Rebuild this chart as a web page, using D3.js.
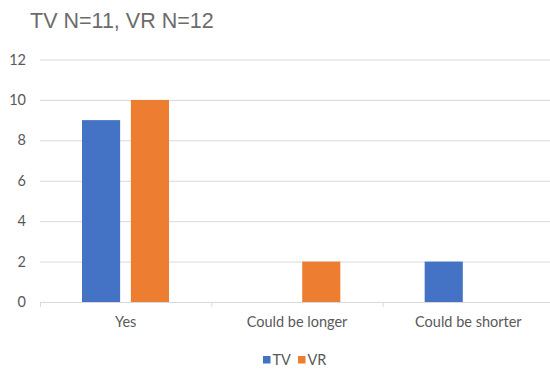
<!DOCTYPE html>
<html>
<head>
<meta charset="utf-8">
<script src="https://cdn.jsdelivr.net/npm/d3@7"></script>
<style>
  html, body { margin: 0; padding: 0; background: #fff; }
  svg { display: block; }
</style>
</head>
<body>
<svg id="chart" width="550" height="369"></svg>
<script>
// Survey answers per group
const categories = ["Yes", "Could be longer", "Could be shorter"];
const seriesNames = ["TV", "VR"];
const tvValues = [9, 0, 2];
const vrValues = [10, 2, 0];
const yTicks = [0, 2, 4, 6, 8, 10, 12];
const titleText = "TV N=11, VR N=12";

const colors = { TV: "#4472C4", VR: "#ED7D31" };
const textColor = "#595959";
const gridColor = "#d9d9d9";
const labelFont = "Lato, 'Open Sans', sans-serif";

const rows = categories.map((c, i) => ({ category: c, TV: tvValues[i], VR: vrValues[i] }));

const svg = d3.select("#chart");
const plotLeft = 40, plotRight = 554, plotTop = 59.5, plotBottom = 302;

const x = d3.scaleBand().domain(categories).range([plotLeft, plotRight]).paddingInner(0).paddingOuter(0);
const x1 = d3.scaleBand().domain(seriesNames).range([42, 129]).paddingInner(0.22).paddingOuter(0);
const y = d3.scaleLinear().domain([0, 12]).range([plotBottom, plotTop]);

// Title
svg.append("text")
  .attr("x", 30).attr("y", 27.5)
  .attr("font-family", "Liberation Sans, Arial, sans-serif")
  .attr("font-size", 21.5)
  .attr("fill", "#6b6b6b")
  .text(titleText);

// Horizontal gridlines with value labels
const yAxis = d3.axisLeft(y).tickValues(yTicks).tickSize(-(550 - plotLeft)).tickPadding(14);
const gy = svg.append("g").attr("transform", `translate(${plotLeft},0)`).call(yAxis);
gy.select(".domain").remove();
gy.selectAll(".tick line").attr("stroke", gridColor).attr("stroke-width", 1);
gy.selectAll(".tick text")
  .attr("fill", textColor)
  .attr("font-family", labelFont)
  .attr("font-size", 14.5);

// Category axis along zero
const xAxis = d3.axisBottom(x).tickSize(0).tickPadding(14.5);
const gx = svg.append("g").attr("transform", `translate(0,${plotBottom})`).call(xAxis);
gx.select(".domain").attr("stroke", gridColor).attr("d", `M${plotLeft},0.5H550`);
gx.selectAll(".tick text")
  .attr("fill", textColor)
  .attr("font-family", labelFont)
  .attr("font-size", 14.5);
// Category separators
svg.append("g").selectAll("line")
  .data(categories)
  .join("line")
  .attr("x1", d => x(d) + 0.5).attr("x2", d => x(d) + 0.5)
  .attr("y1", plotBottom).attr("y2", plotBottom + 5)
  .attr("stroke", gridColor);

// Bars
const groups = svg.append("g").selectAll("g")
  .data(rows)
  .join("g")
  .attr("transform", d => `translate(${x(d.category)},0)`);

groups.selectAll("rect")
  .data(d => seriesNames.map(s => ({ key: s, value: d[s] })).filter(e => e.value > 0))
  .join("rect")
  .attr("x", d => x1(d.key))
  .attr("width", x1.bandwidth())
  .attr("y", d => y(d.value))
  .attr("height", d => y(0) - y(d.value))
  .attr("fill", d => colors[d.key]);

// Legend
const legend = svg.append("g").attr("font-family", labelFont).attr("font-size", 14.5);
const legendItems = [{ name: "TV", x: 263 }, { name: "VR", x: 298 }];
legendItems.forEach(it => {
  legend.append("rect").attr("x", it.x).attr("y", 356).attr("width", 7.5).attr("height", 7.5).attr("fill", colors[it.name]);
  legend.append("text").attr("x", it.x + 9.5).attr("y", 365).attr("fill", textColor).text(it.name);
});
</script>
</body>
</html>
